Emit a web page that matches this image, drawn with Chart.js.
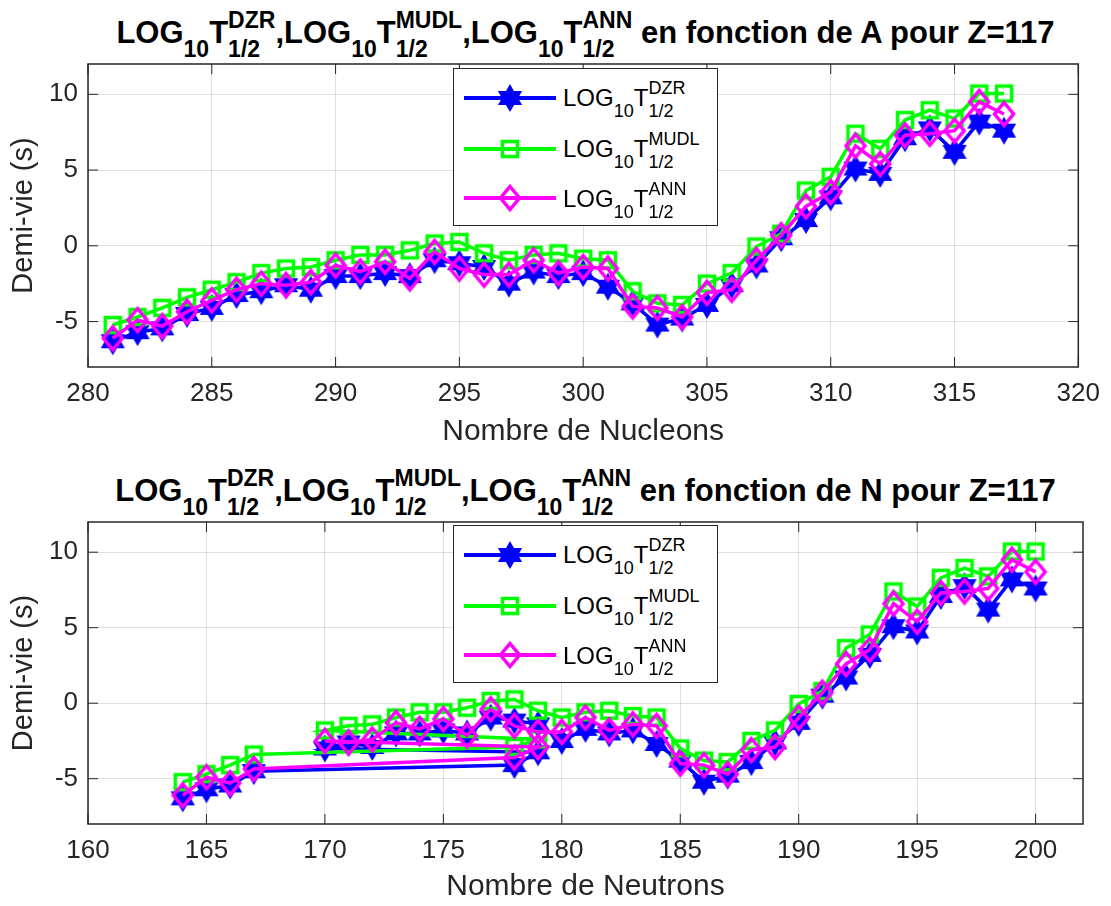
<!DOCTYPE html>
<html>
<head>
<meta charset="utf-8">
<script src="https://cdn.jsdelivr.net/npm/chart.js@4.4.0/dist/chart.umd.min.js"></script>
<style>
html, body { margin: 0; padding: 0; background: #fff; }
body { width: 1111px; height: 906px; position: relative; overflow: hidden;
       font-family: "Liberation Sans", Arial, sans-serif; }
.box { position: absolute; left: 0; width: 1111px; height: 453px; }
.title { position: absolute; left: 88px; width: 995px; text-align: center; font-weight: bold;
         font-size: 31px; line-height: 36px; color: #000; white-space: nowrap; }
.title .sub1 { font-size: 23px; position: relative; top: 14px; }
.title .ss { display: inline-flex; flex-direction: column; align-items: flex-start;
             font-size: 23px; line-height: 29px; position: relative; top: -15px; }
.legend { position: absolute; left: 453px; width: 265px; height: 158px; background: #fff;
          border: 1px solid #262626; box-sizing: border-box; z-index: 5; }
.legend .line { position: absolute; left: 10px; width: 92px; height: 4px; }
.legend img { position: absolute; }
.legend .txt { position: absolute; left: 109px; font-size: 24px; line-height: 24px; color: #000; white-space: nowrap; }
.legend .sub1 { font-size: 18px; position: relative; top: 11px; }
.legend .ss { display: inline-flex; flex-direction: column; align-items: flex-start;
              font-size: 18px; line-height: 23px; position: relative; top: -12px; }
</style>
</head>
<body>

<div class="title" id="t1" style="top:15px"></div>
<div class="box" style="top:0"><canvas id="c1" width="1111" height="453"></canvas></div>
<div class="legend" id="l1" style="top:68px"></div>

<div class="title" id="t2" style="top:473px"></div>
<div class="box" style="top:453px"><canvas id="c2" width="1111" height="453"></canvas></div>
<div class="legend" id="l2" style="top:525px"></div>

<script>
// nombre de nucleons A
const nucleons = [281, 282, 283, 284, 285, 286, 287, 288, 289, 290, 291, 292, 293, 294, 295, 296, 297, 298, 299,
                  300, 301, 302, 303, 304, 305, 306, 307, 308, 309, 310, 311, 312, 313, 314, 315, 316, 317];
// nombre de neutrons N (tel que trace)
const neutrons = [164, 165, 166, 167, 178, 179, 170, 171, 172, 173, 174, 175, 176, 177, 178, 179, 180, 181, 182,
                  183, 184, 185, 186, 187, 188, 189, 190, 191, 192, 193, 194, 195, 196, 197, 198, 199, 200];

const logDZR = [-6.3, -5.7, -5.45, -4.5, -4.1, -3.25, -3.0, -2.6, -2.9, -2.0, -2.0, -1.8, -2.0, -0.95, -1.15, -1.4,
                -2.5, -1.7, -2.0, -1.8, -2.7, -3.8, -5.2, -4.8, -3.9, -2.6, -1.3, 0.5, 1.7, 3.2, 5.1, 4.75,
                7.1, 7.75, 6.2, 8.2, 7.6];
const logMUDL = [-5.23, -4.7, -4.1, -3.4, -2.9, -2.4, -1.8, -1.5, -1.4, -0.95, -0.6, -0.6, -0.3, 0.15, 0.25, -0.5,
                 -0.95, -0.6, -0.5, -0.85, -0.95, -3.0, -3.8, -3.9, -2.5, -1.8, -0.05, 0.8, 3.65, 4.55, 7.4, 6.4,
                 8.3, 8.95, 8.4, 10.05, 10.05];
const logANN = [-6.1, -4.9, -5.3, -4.35, -3.6, -2.9, -2.5, -2.6, -2.4, -1.3, -1.7, -1.05, -2.15, -0.4, -1.5, -1.9,
                -1.9, -0.95, -1.8, -1.4, -1.5, -4.0, -4.1, -4.7, -3.1, -2.9, -0.95, 0.7, 2.6, 3.55, 6.6, 5.4,
                7.3, 7.4, 7.6, 9.5, 8.7];

const ticksA = [280, 285, 290, 295, 300, 305, 310, 315, 320];
const ticksN = [160, 165, 170, 175, 180, 185, 190, 195, 200];
const ticksY = [-5, 0, 5, 10];

const FONT = '"Liberation Sans", Arial, sans-serif';
const BLUE = '#0000ff', GREEN = '#00ff00', MAGENTA = '#ff00ff';

// marqueurs
function markerCanvas(w, h, draw) {
    const c = document.createElement('canvas');
    c.width = w; c.height = h;
    draw(c.getContext('2d'), w / 2, h / 2);
    return c;
}

const starMark = markerCanvas(30, 30, (ctx, cx, cy) => {
    const R = 12.5, r = R / Math.sqrt(3);
    ctx.beginPath();
    for (let i = 0; i < 12; i++) {
        const a = -Math.PI / 2 + i * Math.PI / 6;
        const rr = i % 2 === 0 ? R : r;
        const px = cx + rr * Math.cos(a), py = cy + rr * Math.sin(a);
        if (i === 0) ctx.moveTo(px, py); else ctx.lineTo(px, py);
    }
    ctx.closePath();
    ctx.fillStyle = BLUE;
    ctx.fill();
    ctx.strokeStyle = BLUE;
    ctx.lineWidth = 1.5;
    ctx.stroke();
});

const squareMark = markerCanvas(24, 24, (ctx, cx, cy) => {
    ctx.strokeStyle = GREEN;
    ctx.lineWidth = 3.5;
    ctx.strokeRect(cx - 7.5, cy - 7.5, 15, 15);
});

const diamondMark = markerCanvas(28, 32, (ctx, cx, cy) => {
    ctx.beginPath();
    ctx.moveTo(cx, cy - 11.5);
    ctx.lineTo(cx + 9.5, cy);
    ctx.lineTo(cx, cy + 11.5);
    ctx.lineTo(cx - 9.5, cy);
    ctx.closePath();
    ctx.strokeStyle = MAGENTA;
    ctx.lineWidth = 3.5;
    ctx.stroke();
});

// titres et legendes
function logT(method) {
    return 'LOG<span class="sub1">10</span>T<span class="ss"><span>' + method + '</span><span>1/2</span></span>';
}
document.getElementById('t1').innerHTML =
    logT('DZR') + ',' + logT('MUDL') + ',' + logT('ANN') + ' en fonction de A pour Z=117';
document.getElementById('t2').innerHTML =
    logT('DZR') + ',' + logT('MUDL') + ',' + logT('ANN') + ' en fonction de N pour Z=117';

const legendItems = [
    { name: 'DZR', color: BLUE, mark: starMark },
    { name: 'MUDL', color: GREEN, mark: squareMark },
    { name: 'ANN', color: MAGENTA, mark: diamondMark }
];
const rowY = [28.5, 79.5, 129];

function buildLegend(id) {
    const box = document.getElementById(id);
    legendItems.forEach((item, i) => {
        const y = rowY[i];
        const line = document.createElement('div');
        line.className = 'line';
        line.style.top = (y - 2) + 'px';
        line.style.background = item.color;
        box.appendChild(line);
        const img = document.createElement('img');
        img.src = item.mark.toDataURL();
        img.style.left = (56 - item.mark.width / 2) + 'px';
        img.style.top = (y - item.mark.height / 2) + 'px';
        box.appendChild(img);
        const txt = document.createElement('div');
        txt.className = 'txt';
        txt.style.top = (y - 11.5) + 'px';
        txt.innerHTML = logT(item.name);
        box.appendChild(txt);
    });
}
buildLegend('l1');
buildLegend('l2');

// cadre et graduations interieures
const boxPlugin = {
    id: 'matlabBox',
    beforeDatasetsDraw(chart) {
        const { ctx, chartArea: { left, right, top, bottom }, scales: { x, y } } = chart;
        ctx.save();
        ctx.strokeStyle = '#262626';
        ctx.lineWidth = 1;
        ctx.beginPath();
        x.ticks.forEach(t => {
            const px = x.getPixelForValue(t.value);
            ctx.moveTo(px, bottom); ctx.lineTo(px, bottom - 10);
            ctx.moveTo(px, top); ctx.lineTo(px, top + 10);
        });
        y.ticks.forEach(t => {
            const py = y.getPixelForValue(t.value);
            ctx.moveTo(left, py); ctx.lineTo(left + 10, py);
            ctx.moveTo(right, py); ctx.lineTo(right - 10, py);
        });
        ctx.stroke();
        ctx.lineWidth = 1.5;
        ctx.strokeRect(left, top, right - left, bottom - top);
        ctx.restore();
    }
};

function series(xs, ys, color, mark, order) {
    return {
        data: xs.map((x, i) => ({ x: x, y: ys[i] })),
        showLine: true,
        borderColor: color,
        backgroundColor: color,
        borderWidth: 3.5,
        pointStyle: mark,
        pointRadius: 10,
        tension: 0,
        clip: false,
        order: order
    };
}

function makeChart(canvasId, xs, xMin, xMax, xTicks, xTitle, padTop, xAxisHeight, xTitlePad) {
    return new Chart(document.getElementById(canvasId), {
        type: 'scatter',
        data: {
            datasets: [
                series(xs, logDZR, BLUE, starMark, 3),
                series(xs, logMUDL, GREEN, squareMark, 2),
                series(xs, logANN, MAGENTA, diamondMark, 1)
            ]
        },
        options: {
            responsive: false,
            animation: false,
            layout: { padding: { top: padTop, right: 28, left: 0, bottom: 0 } },
            plugins: { legend: { display: false }, tooltip: { enabled: false } },
            scales: {
                x: {
                    type: 'linear',
                    min: xMin,
                    max: xMax,
                    afterBuildTicks: s => { s.ticks = xTicks.map(v => ({ value: v })); },
                    afterFit: s => { s.height = xAxisHeight; },
                    grid: { color: 'rgba(38,38,38,0.15)', drawTicks: false },
                    border: { display: false },
                    ticks: { color: '#262626', font: { size: 26, family: FONT }, padding: 11,
                             maxRotation: 0, autoSkip: false },
                    title: { display: true, text: xTitle, color: '#262626',
                             font: { size: 30, family: FONT }, padding: { top: 0, bottom: xTitlePad } }
                },
                y: {
                    min: -8,
                    max: 12,
                    afterBuildTicks: s => { s.ticks = ticksY.map(v => ({ value: v })); },
                    afterFit: s => { s.width = 88; },
                    grid: { color: 'rgba(38,38,38,0.15)', drawTicks: false },
                    border: { display: false },
                    ticks: { color: '#262626', font: { size: 26, family: FONT }, padding: 10 },
                    title: { display: true, text: 'Demi-vie (s)', color: '#262626',
                             font: { size: 29, family: FONT }, padding: { top: 7, bottom: 0 } }
                }
            }
        },
        plugins: [boxPlugin]
    });
}

makeChart('c1', nucleons, 280, 320, ticksA, 'Nombre de Nucleons', 64, 86, 3);
makeChart('c2', neutrons, 160, 202, ticksN, 'Nombre de Neutrons', 69, 82, 1);
</script>
</body>
</html>
